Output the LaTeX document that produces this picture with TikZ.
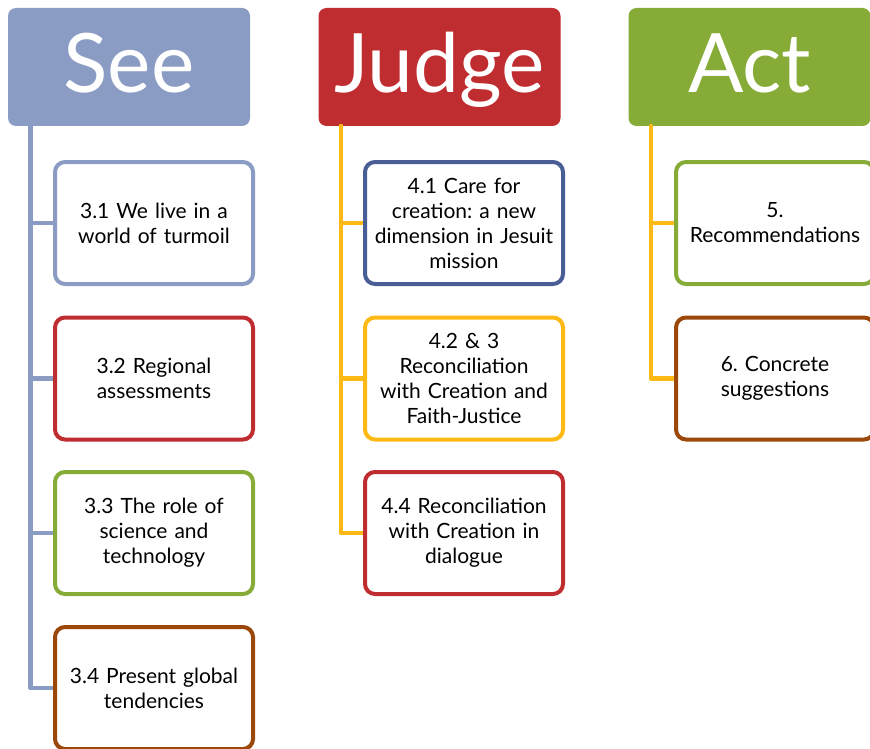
\documentclass[tikz,border=0pt]{standalone}
\usepackage{fontspec}
\setmainfont{Lato}
\definecolor{cblue}{RGB}{138,155,196}
\definecolor{cred}{RGB}{192,45,48}
\definecolor{cgreen}{RGB}{134,171,55}
\definecolor{cdblue}{RGB}{74,94,150}
\definecolor{cyellow}{RGB}{255,185,20}
\definecolor{cbrown}{RGB}{155,72,10}
\begin{document}
\frenchspacing
\begin{tikzpicture}[x=1pt,y=-1pt,
  header/.style={fill=#1, draw=none, rounded corners=8pt, minimum width=242pt, minimum height=118pt,
    text=white, font=\fontsize{82}{82}\selectfont, text height=60pt, text depth=8pt, inner sep=0pt},
  child/.style={draw=#1, line width=4pt, fill=white, rounded corners=10pt, minimum width=198pt,
    minimum height=122pt, align=center, text width=194pt, inner sep=0pt,
    font=\fontsize{21}{25}\selectfont},
  trunk/.style={draw=#1, line width=4.5pt, line cap=round, line join=round}
]
\useasboundingbox (0,0) rectangle (870,749);

% headers
\node[header=cblue] (see) at (129,67) {See};
\node[header=cred] (judge) at (439.5,67) {Judge};
\node[header=cgreen] (act) at (749.5,67) {Act};

% trunk coordinates
\coordinate (st) at ([xshift=22.5pt]see.south west);
\coordinate (jt) at ([xshift=22.5pt]judge.south west);
\coordinate (at) at ([xshift=22.5pt]act.south west);

% branch ends (outer left edges of the boxes)
\coordinate (s1w) at (53,223);
\coordinate (s2w) at (53,378.5);
\coordinate (s3w) at (53,533);
\coordinate (s4w) at (53,688);
\coordinate (j1w) at (363,223);
\coordinate (j2w) at (363,378.5);
\coordinate (j3w) at (363,533);
\coordinate (a1w) at (674,223);
\coordinate (a2w) at (674,378.5);

% connectors (drawn first so boxes sit on top)
\draw[trunk=cblue] (st) |- (s1w);
\draw[trunk=cblue] (st) |- (s2w);
\draw[trunk=cblue] (st) |- (s3w);
\draw[trunk=cblue] (st) |- (s4w);
\draw[trunk=cyellow] (jt) |- (j1w);
\draw[trunk=cyellow] (jt) |- (j2w);
\draw[trunk=cyellow] (jt) |- (j3w);
\draw[trunk=cyellow] (at) |- (a1w);
\draw[trunk=cyellow] (at) |- (a2w);

% See children
\node[child=cblue, anchor=west] (s1) at (s1w) {3.1 We live in a\\world of turmoil};
\node[child=cred, anchor=west] (s2) at (s2w) {3.2 Regional\\assessments};
\node[child=cgreen, anchor=west] (s3) at (s3w) {3.3 The role of\\science and\\technology};
\node[child=cbrown, anchor=west] (s4) at (s4w) {3.4 Present global\\tendencies};

% Judge children
\node[child=cdblue, anchor=west] (j1) at (j1w) {4.1 Care for\\creation: a new\\dimension in Jesuit\\mission};
\node[child=cyellow, anchor=west] (j2) at (j2w) {4.2 \& 3\\Reconciliation\\with Creation and\\Faith-Justice};
\node[child=cred, anchor=west] (j3) at (j3w) {4.4 Reconciliation\\with Creation in\\dialogue};

% Act children
\node[child=cgreen, anchor=west] (a1) at (a1w) {5.\\Recommendations};
\node[child=cbrown, anchor=west] (a2) at (a2w) {6. Concrete\\suggestions};
\end{tikzpicture}
\end{document}
